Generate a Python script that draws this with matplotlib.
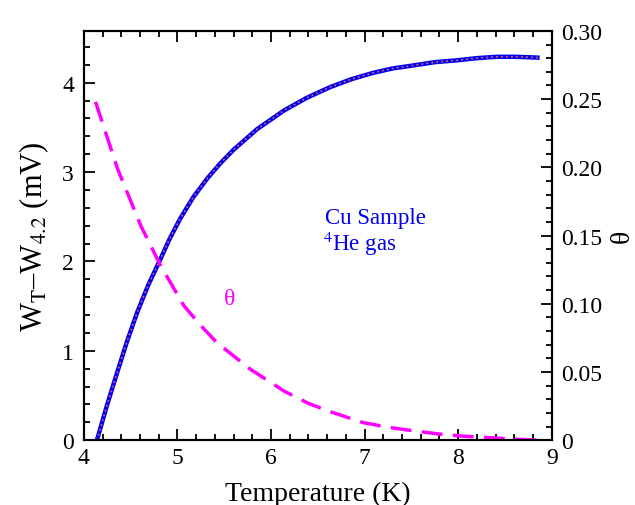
import matplotlib
matplotlib.use("Agg")
import matplotlib.pyplot as plt
from matplotlib.ticker import MultipleLocator

plt.rcParams['font.family'] = ['Liberation Serif', 'DejaVu Serif']
plt.rcParams['mathtext.fontset'] = 'stix'

# W_T - W_4.2 (mV) vs temperature
temp_w = [4.14, 4.25, 4.36, 4.46, 4.57, 4.69, 4.82, 4.92, 5.03, 5.17, 5.32, 5.46, 5.60, 5.85, 6.14,
          6.38, 6.63, 6.86, 7.09, 7.30, 7.50, 7.75, 7.98, 8.2, 8.41, 8.6, 8.75, 8.87]
w_vals = [0.0, 0.40, 0.77, 1.10, 1.43, 1.74, 2.03, 2.26, 2.48, 2.72, 2.93, 3.10, 3.25, 3.48, 3.69,
          3.83, 3.95, 4.04, 4.11, 4.16, 4.19, 4.23, 4.25, 4.275, 4.29, 4.29, 4.285, 4.28]

# theta vs temperature
temp_th = [4.125, 4.36, 4.61, 4.82, 5.07, 5.25, 5.42, 5.78, 6.14, 6.40, 6.63, 6.98,
           7.25, 7.56, 7.80, 8.05, 8.30, 8.5, 8.7, 8.87]
theta_vals = [0.248, 0.199, 0.157, 0.128, 0.0985, 0.084, 0.0716, 0.052, 0.036, 0.027, 0.021, 0.013,
              0.0095, 0.0066, 0.0045, 0.003, 0.002, 0.0012, 0.0005, 0.0]

fig = plt.figure(figsize=(6.35, 5.06), dpi=100)
ax = fig.add_axes([0.132, 0.128, 0.737, 0.809])
ax2 = ax.twinx()

ax.plot(temp_w, w_vals, color='#0000ee', lw=3.2, solid_capstyle='butt')
ax.plot(temp_w, w_vals, color='#ff6060', lw=1.2, ls=(0, (1, 2)))
ax2.plot(temp_th, theta_vals, color='#ff00ff', lw=2.5, ls=(0, (6, 3)))

ax.set_xlim(4, 9)
ax.set_ylim(0, 4.58)
ax2.set_ylim(0, 0.30)

ax.xaxis.set_major_locator(MultipleLocator(1))
ax.xaxis.set_minor_locator(MultipleLocator(0.2))
ax.yaxis.set_major_locator(MultipleLocator(1))
ax.yaxis.set_minor_locator(MultipleLocator(0.2))
ax2.yaxis.set_minor_locator(MultipleLocator(0.01))
ax2.set_yticks([0, 0.05, 0.10, 0.15, 0.20, 0.25, 0.30])
ax2.set_yticklabels(['0', '0.05', '0.10', '0.15', '0.20', '0.25', '0.30'])

ax.tick_params(which='both', direction='in', top=True, labelsize=17, width=1.3)
ax.tick_params(which='major', length=8)
ax.tick_params(which='minor', length=4)
ax.tick_params(axis='x', pad=5)
ax.tick_params(axis='y', right=False, pad=7)
ax2.tick_params(which='both', direction='in', labelsize=17, width=1.3, pad=7)
ax2.tick_params(which='major', length=8)
ax2.tick_params(which='minor', length=4)

for a in (ax, ax2):
    for s in a.spines.values():
        s.set_linewidth(1.5)

ax.set_xlabel('Temperature (K)', fontsize=20, labelpad=9)
ax.set_ylabel(r'W$_\mathrm{T}$–W$_{4.2}$ (mV)', fontsize=22, labelpad=8)
ax2.set_ylabel('θ', fontsize=20, labelpad=5)

ax.text(6.58, 2.43, 'Cu Sample', color='#0000ee', fontsize=16.5)
ax.text(6.56, 2.13, r'$^4$He gas', color='#0000ee', fontsize=16.5)
ax.text(5.5, 1.52, 'θ', color='#ff00ff', fontsize=17)

fig.savefig('out.png', dpi=100)
